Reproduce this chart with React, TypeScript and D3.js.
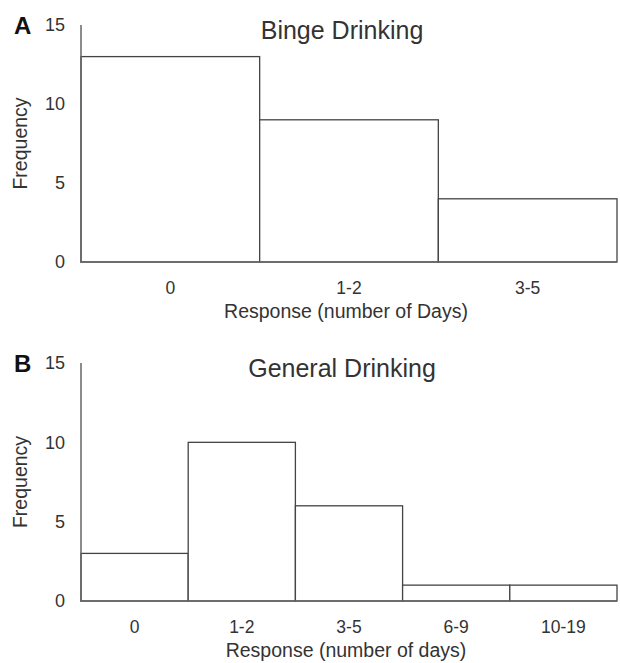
import React from "react";
import * as d3 from "d3";

const bingeCategories = ["0", "1-2", "3-5"];
const bingeFrequency = [13, 9, 4];
const generalCategories = ["0", "1-2", "3-5", "6-9", "10-19"];
const generalFrequency = [3, 10, 6, 1, 1];
const yTicks = [0, 5, 10, 15];

const FONT = "'Liberation Sans', Arial, Helvetica, sans-serif";
const TEXT = "#333";

type PanelProps = {
  letter: string;
  title: string;
  xTitle: string;
  categories: string[];
  values: number[];
  top: number;
  bottom: number;
};

function Panel({ letter, title, xTitle, categories, values, top, bottom }: PanelProps) {
  const left = 81;
  const right = 617;
  const x = d3.scaleBand<string>().domain(categories).range([left, right]).padding(0);
  const y = d3.scaleLinear().domain([0, 15]).range([bottom, top]);
  const mid = (left + right) / 2;
  return (
    <g fontFamily={FONT}>
      {values.map((v, i) => (
        <rect
          key={i}
          x={x(categories[i])!}
          y={y(v)}
          width={x.bandwidth()}
          height={y(0) - y(v)}
          fill="#fff"
          stroke="#444"
          strokeWidth={1.3}
        />
      ))}
      <line x1={left} x2={left} y1={y(15)} y2={y(0)} stroke="#666" strokeWidth={1.5} />
      <line x1={left - 1} x2={right} y1={y(0)} y2={y(0)} stroke="#666" strokeWidth={1.5} />
      {yTicks.map((t) => (
        <text key={t} x={65} y={y(t)} dy="0.36em" textAnchor="end" fontSize={18} fill={TEXT}>
          {t}
        </text>
      ))}
      {categories.map((c) => (
        <text key={c} x={x(c)! + x.bandwidth() / 2} y={y(0) + 26} dy="0.36em" textAnchor="middle" fontSize={17.5} fill={TEXT}>
          {c}
        </text>
      ))}
      <text x={mid - 3} y={y(0) + 49} dy="0.36em" textAnchor="middle" fontSize={19.5} fill={TEXT}>
        {xTitle}
      </text>
      <text x={mid - 7} y={y(15) + 5} dy="0.36em" textAnchor="middle" fontSize={25} fill={TEXT}>
        {title}
      </text>
      <text
        transform={`translate(20,${(y(0) + y(15)) / 2}) rotate(-90)`}
        dy="0.36em"
        textAnchor="middle"
        fontSize={19.5}
        fill={TEXT}
      >
        Frequency
      </text>
      <text x={14} y={y(15)} dy="0.36em" fontSize={24} fontWeight="bold" fill="#111">
        {letter}
      </text>
    </g>
  );
}

export default function App() {
  return (
    <svg
      width={620}
      height={663}
      style={{ position: "absolute", left: 0, top: 0, background: "#fff" }}
    >
      <rect width={620} height={663} fill="#fff" />
      <Panel
        letter="A"
        title="Binge Drinking"
        xTitle="Response (number of Days)"
        categories={bingeCategories}
        values={bingeFrequency}
        top={25}
        bottom={262}
      />
      <Panel
        letter="B"
        title="General Drinking"
        xTitle="Response (number of days)"
        categories={generalCategories}
        values={generalFrequency}
        top={363}
        bottom={601}
      />
    </svg>
  );
}
